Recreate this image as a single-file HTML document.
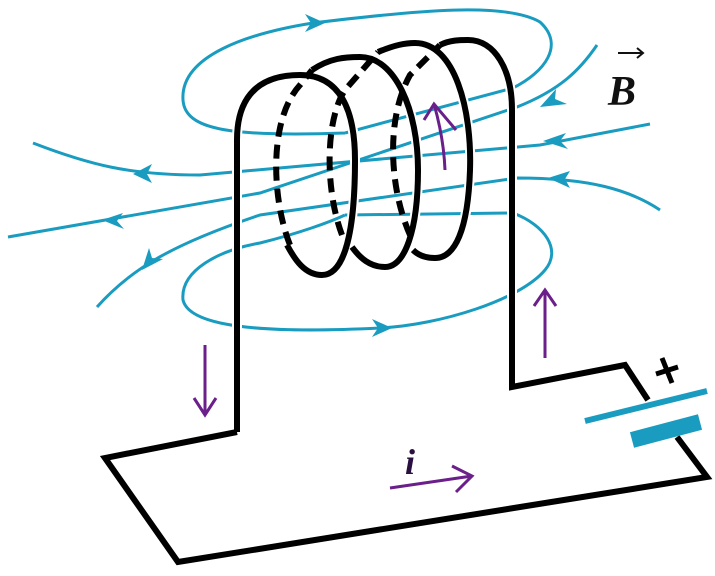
<!DOCTYPE html>
<html><head><meta charset="utf-8"><style>
html,body{margin:0;padding:0;background:#fff;}
svg{display:block;}
</style></head><body>
<svg width="715" height="576" viewBox="0 0 715 576" xmlns="http://www.w3.org/2000/svg">
<defs>
<marker id="ba" viewBox="0 0 10 10" refX="5" refY="5" markerWidth="7" markerHeight="7" orient="auto-start-reverse"><path d="M0,0 L10,5 L0,10 L3,5 z" fill="#1a9cc0"/></marker>
</defs>
<g fill="none" stroke="#1a9cc0" stroke-width="3">
  <path d="M345,133 L513,88 C545,72 565,45 540,22 C505,2 420,10 313,23 C250,33 180,55 183,100 C185,130 230,137 345,133"/>
  <path d="M345,215 L513,213 C545,225 562,250 545,270 C520,300 440,325 380,328 C280,333 190,330 183,300 C180,270 220,250 260,243 C300,233 330,222 345,215"/>
  <path d="M33,143 C90,165 130,175 200,175 L540,145 L650,124"/>
  <path d="M8,237 L260,193 L517,107 C560,90 580,70 597,45"/>
  <path d="M97,307 C130,270 170,245 260,215 L517,178 C590,178 630,190 660,210"/>
</g>
<g fill="#1a9cc0">
  <path d="M325,23 L305,14 L311,23 L305,32 z"/>
  <path d="M392,328 L372,319 L378,328 L372,337 z"/>
  <path d="M133,174 L152,164 L147,174 L152,183 z"/>
  <path d="M102,220 L123,213 L117,221 L124,229 z"/>
  <path d="M142,270 L149,248 L152,258 L163,259 z"/>
  <path d="M540,107 L556,89 L555,99 L567,104 z"/>
  <path d="M543,141 L566,133 L560,141 L568,149 z"/>
  <path d="M548,178 L570,171 L565,179 L570,188 z"/>
</g>
<g fill="none" stroke="#fff" stroke-width="10" stroke-linecap="round">
  <path d="M237,432 L237,140 C237,95 260,75 300,75 C340,75 355,110 355,160 C355,230 345,275 322,275 C305,275 295,260 287,245"/>
  <path d="M312,70 C330,58 345,57 360,57 C395,57 418,110 418,170 C418,230 405,267 385,267 C370,267 360,258 352,247"/>
  <path d="M378,52 C395,45 405,43 415,43 C455,43 472,110 470,170 C468,230 455,258 435,258 C425,258 418,255 413,250"/>
  <path d="M440,45 C450,40 460,40 468,40 C495,40 512,70 512,110 L512,385"/>
</g>
<g fill="none" stroke="#000" stroke-width="6" stroke-linejoin="miter">
  <path d="M237,432 L237,140 C237,95 260,75 300,75 C340,75 355,110 355,160 C355,230 345,275 322,275 C305,275 295,260 287,245"/>
  <path stroke-dasharray="14,8" d="M290,245 C272,200 268,120 300,85 L312,70"/>
  <path d="M312,70 C330,58 345,57 360,57 C395,57 418,110 418,170 C418,230 405,267 385,267 C370,267 360,258 352,247"/>
  <path stroke-dasharray="14,8" d="M342,235 C325,190 325,120 345,90 L378,52"/>
  <path d="M378,52 C395,45 405,43 415,43 C455,43 472,110 470,170 C468,230 455,258 435,258 C425,258 418,255 413,250"/>
  <path stroke-dasharray="14,8" d="M410,235 C390,190 385,120 410,75 L440,45"/>
  <path d="M440,45 C450,40 460,40 468,40 C495,40 512,70 512,110 L512,387 L625,365 L648,400"/>
  <path d="M677,437 L707,477 L178,562 L105,458 L237,432"/>
</g>
<g>
  <line x1="585" y1="421" x2="707" y2="391" stroke="#1a9cc0" stroke-width="6"/>
  <line x1="632" y1="440" x2="700" y2="422" stroke="#1a9cc0" stroke-width="16"/>
  <g stroke="#000" stroke-width="5">
    <line x1="656" y1="374" x2="678" y2="367"/>
    <line x1="662" y1="358" x2="672" y2="383"/>
  </g>
</g>
<g fill="none" stroke="#6b1f8a" stroke-width="3">
  <path d="M205,345 L205,413 M194,398 L205,415 L216,398"/>
  <path d="M445,170 C444,145 440,125 434,104 M424,120 L434,104 L456,130"/>
  <path d="M545,358 L545,290 M534,306 L545,290 L556,306"/>
  <path d="M390,488 L472,476 M452,466 L472,476 L456,492"/>
</g>
<text x="405" y="474" font-family="Liberation Serif, serif" font-style="italic" font-weight="bold" font-size="36" fill="#2a1040">i</text>
<text x="608" y="105" font-family="Liberation Serif, serif" font-style="italic" font-weight="bold" font-size="42" fill="#111">B</text>
<path d="M618,53 L643,53 M637,48 L643,53 L637,58" stroke="#111" stroke-width="2" fill="none"/>
</svg>
</body></html>
